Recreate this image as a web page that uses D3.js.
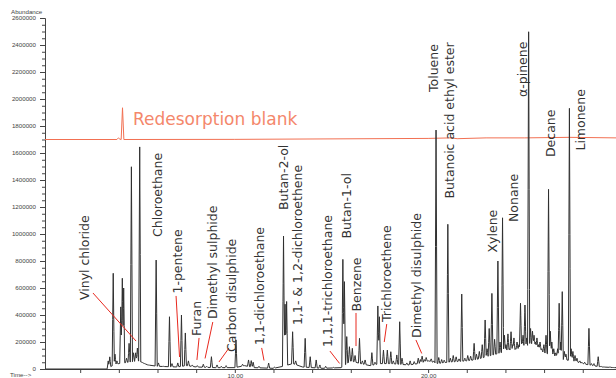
<!DOCTYPE html>
<html lang="en">
<head>
<meta charset="utf-8">
<title>Chromatogram</title>
<script src="https://cdn.jsdelivr.net/npm/d3@7"></script>
<style>
  body { margin: 0; background: #fff; }
  svg { display: block; }
</style>
</head>
<body>
<div id="chart"></div>
<script>
// sample trace: retention time (min) and peak top (abundance)
var peakTimes = [3.45, 3.53, 3.71, 3.80, 3.90, 4.10, 4.18, 4.25, 4.40, 4.53, 4.65, 4.76, 4.87, 4.96, 5.08, 5.20, 5.35, 5.55,
  5.93, 6.05, 6.30, 6.62, 6.75, 7.05, 7.24, 7.44, 7.60, 7.80, 8.06, 8.37, 8.55, 8.79, 9.08, 9.30, 9.55, 10.06, 10.40,
  10.71, 10.85, 10.95, 11.25, 11.75, 12.05, 12.52, 12.60, 12.68, 12.99, 13.15, 13.64, 13.90, 14.21, 14.40, 14.70, 15.10,
  15.59, 15.67, 15.79, 15.93, 16.08, 16.22, 16.45, 16.60, 16.74, 17.09, 17.25, 17.40, 17.48, 17.69, 17.89, 18.07, 18.20,
  18.38, 18.53, 18.65, 18.90, 19.07, 19.28, 19.49, 19.60, 19.69, 19.80, 19.90, 20.05, 20.16, 20.30, 20.41, 20.55, 20.70,
  20.83, 21.02, 21.15, 21.30, 21.45, 21.60, 21.74, 21.90, 22.05, 22.20, 22.38, 22.50, 22.65, 22.80, 22.95, 23.05, 23.16,
  23.30, 23.44, 23.61, 23.72, 23.85, 23.95, 24.03, 24.13, 24.20, 24.29, 24.38, 24.44, 24.52, 24.60, 24.70, 24.78, 24.85,
  24.91, 25.01, 25.10, 25.20, 25.30, 25.40, 25.48, 25.56, 25.63, 25.72, 25.79, 25.88, 25.99, 26.10, 26.23, 26.32, 26.40,
  26.50, 26.61, 26.70, 26.78, 26.86, 26.94, 27.05, 27.13, 27.31, 27.40, 27.49, 27.60, 27.70, 27.85, 27.96, 28.10, 28.32,
  28.45, 28.58, 28.80, 28.95, 29.10, 29.41, 29.60];
var peakHeights = [60000, 90000, 709000, 110000, 60000, 460000, 672000, 600000, 80000, 190000, 1498000, 120000, 120000, 155000, 1645000, 50000, 35000, 25000,
  807000, 45000, 20000, 387000, 40000, 45000, 400000, 267000, 60000, 30000, 25000, 35000, 20000, 91000, 30000, 20000, 25000, 215000, 35000,
  67000, 62000, 50000, 20000, 44000, 15000, 985000, 480000, 500000, 276000, 60000, 227000, 91000, 67000, 30000, 20000, 12000,
  812000, 647000, 240000, 165000, 153000, 100000, 227000, 60000, 67000, 121000, 50000, 467000, 387000, 140000, 140000, 128000, 60000,
  104000, 350000, 80000, 45000, 60000, 55000, 80000, 70000, 95000, 70000, 85000, 60000, 75000, 60000, 1770000, 85000, 70000,
  65000, 1072000, 80000, 100000, 90000, 75000, 555000, 80000, 100000, 95000, 190000, 110000, 130000, 180000, 363000, 150000, 300000,
  560000, 220000, 800000, 200000, 1120000, 250000, 180000, 260000, 150000, 276000, 180000, 230000, 150000, 200000, 180000, 487000, 200000,
  250000, 474000, 230000, 2498000, 300000, 280000, 250000, 200000, 230000, 180000, 200000, 150000, 180000, 250000, 1331000, 280000, 200000,
  150000, 120000, 150000, 487000, 200000, 573000, 130000, 110000, 1931000, 150000, 130000, 100000, 80000, 60000, 50000, 50000, 301000,
  40000, 40000, 91000, 20000, 15000, 15000, 10000];

// baseline drift under the peaks
var baseTimes  = [0.18, 3.4, 3.6, 4.0, 4.5, 5.0, 5.5, 6.0, 7.0, 7.5, 8.0, 9.0, 10.0, 10.5, 11.0, 12.0, 12.5, 13.0, 13.5, 14.5, 15.5,
  16.0, 16.5, 17.0, 17.5, 18.0, 19.0, 19.5, 20.0, 20.5, 21.0, 22.0, 22.5, 23.0, 23.5, 24.0, 24.5, 25.0, 25.5, 26.0, 26.5, 27.0,
  27.5, 28.0, 28.5, 29.0, 29.72];
var baseValues = [0, 0, 20000, 40000, 50000, 60000, 30000, 20000, 15000, 25000, 15000, 10000, 10000, 25000, 10000, 5000, 20000, 40000, 15000, 5000, 10000,
  60000, 40000, 25000, 40000, 40000, 30000, 40000, 60000, 40000, 50000, 60000, 70000, 90000, 110000, 130000, 140000, 160000, 170000, 120000, 100000, 70000,
  60000, 40000, 25000, 15000, 10000];

// redesorption blank trace
var blankTimes  = [0.18, 3.9, 3.98, 4.05, 4.12, 4.19, 4.26, 10, 20, 21.2, 21.5, 23, 25, 27.3, 29.72];
var blankValues = [1700000, 1700000, 1712000, 1703000, 1700000, 1935000, 1700000, 1701000, 1708000, 1712000, 1706000, 1712000, 1712000, 1716000, 1712000];

// compound names, label anchor [time, abundance], leader [from, to] or null
var labelNames = ["Vinyl chloride", "Chloroethane", "1-pentene", "Furan", "Dimethyl sulphide", "Carbon disulphide",
  "1,1-dichloroethane", "Butan-2-ol", "1,1- & 1,2-dichloroethene", "1,1,1-trichloroethane", "Butan-1-ol", "Benzene",
  "Trichloroethene", "Dimethyl disulphide", "Toluene", "Butanoic acid ethyl ester", "Xylene", "Nonane", "\u03b1-pinene",
  "Decane", "Limonene"];
var labelAt = [[2.46, 511000], [6.25, 978000], [7.27, 559000], [8.23, 244000], [9.08, 370000], [10.04, 126000],
  [11.51, 178000], [12.73, 1178000], [13.50, 326000], [15.05, 163000], [15.99, 967000], [16.51, 426000],
  [18.07, 348000], [19.61, 230000], [20.53, 2052000], [21.34, 1263000], [23.54, 863000], [24.65, 1089000], [25.12, 2015000],
  [26.59, 1570000], [28.14, 1618000]];
var leaders = [[[2.66, 563000], [4.89, 207000]], null, [[6.96, 541000], [7.14, 89000]], [[8.15, 230000], [8.04, 67000]],
  [[8.86, 348000], [8.46, 78000]], [[9.70, 156000], [9.18, 52000]], [[11.39, 156000], [11.51, 63000]], null, null,
  [[14.92, 133000], [15.42, 41000]], null, [[16.27, 415000], [16.27, 170000]], [[17.86, 333000], [17.73, 200000]],
  [[19.37, 215000], [19.67, 115000]], null, null, null, null, null, null, null];

var yTicks = d3.range(0, 2600001, 200000);
var xTicks = d3.range(2, 29, 2);

var W = 616, H = 378;
var mLeft = 45, mRight = 616, mTop = 18, mBottom = 369;

var svg = d3.select("#chart").append("svg")
  .attr("width", W)
  .attr("height", H)
  .style("font-family", "'Liberation Sans', Arial, sans-serif");

var x = d3.scaleLinear().domain([0.18, 29.72]).range([mLeft, mRight]);
var y = d3.scaleLinear().domain([0, 2600000]).range([mBottom, mTop]);
var base = d3.scaleLinear().domain(baseTimes).range(baseValues).clamp(true);

// build trace vertices from peaks sitting on the baseline
var w = 0.055;
var ts = baseTimes.slice();
peakTimes.forEach(function(t) {
  ts.push(t - w, t - w / 2, t, t + w / 2, t + w);
});
ts = Array.from(new Set(ts.map(function(t) { return +t.toFixed(4); })))
  .filter(function(t) { return t >= 0.18 && t <= 29.72; })
  .sort(d3.ascending);

var trace = ts.map(function(t) {
  var v = base(t);
  for (var i = 0; i < peakTimes.length; i++) {
    var d = Math.abs(t - peakTimes[i]);
    if (d < w) {
      var b = base(peakTimes[i]);
      var pv = base(t) + (Math.max(peakHeights[i], b) - b) * (1 - d / w);
      if (pv > v) v = pv;
    }
  }
  return [t, v];
});

var line = d3.line()
  .x(function(d) { return x(d[0]); })
  .y(function(d) { return y(d[1]); });

// axes
svg.append("g")
  .attr("transform", "translate(" + mLeft + ",0)")
  .call(d3.axisLeft(y).tickValues(yTicks).tickFormat(d3.format("d")).tickSize(5).tickPadding(4));
svg.append("g")
  .attr("transform", "translate(" + mLeft + ",0)")
  .call(d3.axisLeft(y).tickValues(d3.range(0, 2600001, 50000)).tickFormat("").tickSize(3).tickSizeOuter(0))
  .select(".domain").remove();

svg.append("g")
  .attr("transform", "translate(0," + mBottom + ")")
  .call(d3.axisBottom(x).tickValues(xTicks)
    .tickFormat(function(d) { return d % 10 === 0 ? d.toFixed(2) : ""; })
    .tickSize(4).tickSizeOuter(0).tickPadding(1));

svg.selectAll(".tick text")
  .attr("font-size", "6.2px")
  .attr("fill", "#444");
svg.selectAll(".domain, .tick line").attr("stroke", "#444");

svg.append("text")
  .attr("x", 11).attr("y", 14)
  .attr("font-size", "6.2px").attr("fill", "#444")
  .text("Abundance");
svg.append("text")
  .attr("x", 10).attr("y", 377)
  .attr("font-size", "6.2px").attr("fill", "#444")
  .text("Time-->");

// blank trace
svg.append("path")
  .datum(blankTimes.map(function(t, i) { return [t, blankValues[i]]; }))
  .attr("d", line)
  .attr("fill", "none")
  .attr("stroke", "#f27052")
  .attr("stroke-width", 1);

svg.append("text")
  .attr("x", x(4.73)).attr("y", y(1807000))
  .attr("font-family", "'DejaVu Sans', sans-serif")
  .attr("font-size", "17px")
  .attr("fill", "#f4876b")
  .text("Redesorption blank");

// sample trace
svg.append("path")
  .datum(trace)
  .attr("d", line)
  .attr("fill", "none")
  .attr("stroke", "#303030")
  .attr("stroke-width", 1)
  .attr("stroke-linejoin", "round");

// leader lines
svg.selectAll("line.leader")
  .data(leaders.filter(function(d) { return d; }))
  .enter()
  .append("line")
  .attr("class", "leader")
  .attr("x1", function(d) { return x(d[0][0]); })
  .attr("y1", function(d) { return y(d[0][1]); })
  .attr("x2", function(d) { return x(d[1][0]); })
  .attr("y2", function(d) { return y(d[1][1]); })
  .attr("stroke", "#e8281e")
  .attr("stroke-width", 1);

// compound labels
svg.selectAll("text.compound")
  .data(labelNames)
  .enter()
  .append("text")
  .attr("class", "compound")
  .attr("transform", function(d, i) {
    return "translate(" + x(labelAt[i][0]) + "," + y(labelAt[i][1]) + ") rotate(-90)";
  })
  .attr("font-family", "'DejaVu Sans', sans-serif")
  .attr("font-size", "12.5px")
  .attr("fill", "#333")
  .text(function(d) { return d; });
</script>
</body>
</html>
